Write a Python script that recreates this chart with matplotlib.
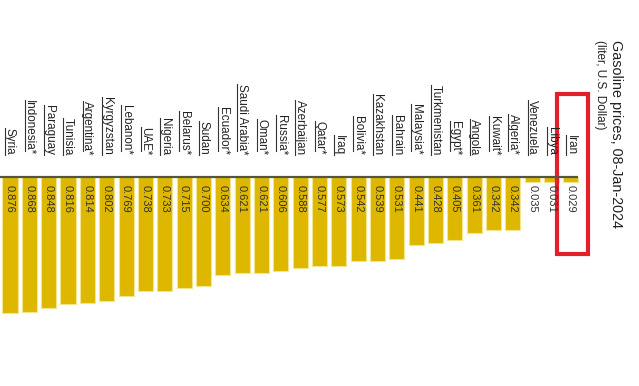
import matplotlib
matplotlib.use("Agg")
import matplotlib.pyplot as plt
import numpy as np
from matplotlib.lines import Line2D
from matplotlib.patches import Rectangle

plt.rcParams["font.family"] = ["Liberation Sans", "DejaVu Sans"]

# --- data (liter price, USD) ---
COUNTRIES = ["Syria", "Indonesia*", "Paraguay", "Tunisia", "Argentina*", "Kyrgyzstan",
             "Lebanon*", "UAE*", "Nigeria", "Belarus*", "Sudan", "Ecuador*",
             "Saudi Arabia*", "Oman*", "Russia*", "Azerbaijan", "Qatar*", "Iraq",
             "Bolivia*", "Kazakhstan", "Bahrain", "Malaysia*", "Turkmenistan", "Egypt*",
             "Angola", "Kuwait*", "Algeria*", "Venezuela", "Libya", "Iran"]
PRICES = [0.876, 0.868, 0.848, 0.816, 0.814, 0.802,
          0.769, 0.738, 0.733, 0.715, 0.700, 0.634,
          0.621, 0.621, 0.606, 0.588, 0.577, 0.573,
          0.542, 0.539, 0.531, 0.441, 0.428, 0.405,
          0.361, 0.342, 0.342, 0.035, 0.031, 0.029]
TITLE = "Gasoline prices, 08-Jan-2024"
SUBTITLE = "(liter, U.S. Dollar)"
HIGHLIGHT = "Iran"

GOLD = "#DDB700"
LABEL_FS = 8.4
VALUE_FS = 8.0

fig = plt.figure(figsize=(6.39, 3.86), dpi=100)
ax = fig.add_axes([0, 0, 1, 1])
ax.axis("off")

x = np.arange(len(COUNTRIES))
ax.bar(x, PRICES, width=0.78, color=GOLD, edgecolor="#f3e58c", linewidth=0.8)
ax.set_xlim(-0.517, 32.52)
ax.set_ylim(1.348, -1.142)          # inverted: bars hang down from the baseline
ax.plot([-0.517, x[-1] + 0.38], [0, 0], color="#55553f", lw=1.6, solid_capstyle="butt")

# names above the baseline (rotated, reading downward), values inside the bars
labels = []
for i, (name, v) in enumerate(zip(COUNTRIES, PRICES)):
    labels.append(ax.text(i, -0.142, name, rotation=270, ha="center", va="bottom",
                          fontsize=LABEL_FS, color="#222222"))
    ax.text(i, 0.052, f"{v:.3f}", rotation=270, ha="center", va="top",
            fontsize=VALUE_FS, color="#333333")

# underline every name (link style) -- measured after a draw
fig.canvas.draw()
renderer = fig.canvas.get_renderer()
to_fig = fig.transFigure.inverted()
for t, name in zip(labels, COUNTRIES):
    bb = t.get_window_extent(renderer)
    tmp = ax.text(0, 0, name.rstrip("*"), rotation=270, fontsize=LABEL_FS)
    core_len = tmp.get_window_extent(renderer).height
    tmp.remove()
    ux = bb.x0 + 1.3
    (fx0, fy0), (fx1, fy1) = to_fig.transform([(ux, bb.y1), (ux, bb.y1 - core_len)])
    fig.add_artist(Line2D([fx0, fx1], [fy0, fy1], transform=fig.transFigure,
                          color="#333333", lw=0.8))

# red box round the highlighted country
hi = COUNTRIES.index(HIGHLIGHT)
ax.add_patch(Rectangle((hi - 0.72, -0.535), 1.6, 1.032, fill=False,
                       edgecolor="#E3202A", lw=3.0, clip_on=False))

fig.text(616 / 639, 1 - 40 / 386, TITLE, rotation=270, ha="center", va="top",
         fontsize=10.4, color="#222222")
fig.text(600 / 639, 1 - 40 / 386, SUBTITLE, rotation=270, ha="center", va="top",
         fontsize=8.5, color="#222222")

fig.savefig("out.png", dpi=100, facecolor="white")
